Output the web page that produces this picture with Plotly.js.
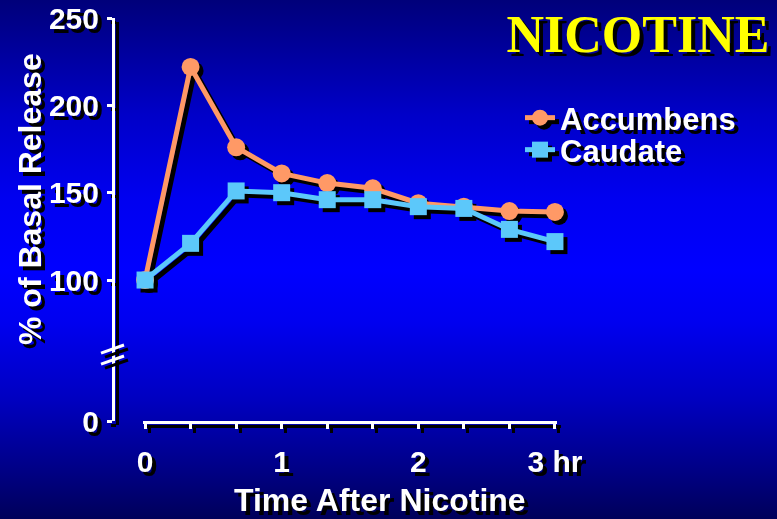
<!DOCTYPE html>
<html>
<head>
<meta charset="utf-8">
<script src="https://cdn.plot.ly/plotly-3.0.1.min.js"></script>
<style>
  html, body { margin: 0; padding: 0; width: 777px; height: 519px; overflow: hidden; }
  body { background: linear-gradient(to bottom, #00007a 0%, #0000c8 22%, #0000f0 38%, #0000ff 52%, #0000f0 62%, #0000c0 77%, #000088 90%, #00005a 100%); }
  #chart { width: 777px; height: 519px; }
  #chart .main-svg { filter: drop-shadow(4px 4px 0 #000); }
</style>
</head>
<body>
<div id="chart"></div>
<script>
// Data (time in minutes after nicotine, % of basal release)
const timeMin = [0, 20, 40, 60, 80, 100, 120, 140, 160, 180];
const accumbens = [100, 222, 176, 161, 155.5, 152.5, 144, 142, 139.5, 139];
const caudate = [100, 121, 151, 150, 146, 146, 142, 141, 129, 122];
const seriesNames = ['Accumbens', 'Caudate'];
const xTickVals = [0, 20, 40, 60, 80, 100, 120, 140, 160, 180];
const xTickText = ['0', '', '', '1', '', '', '2', '', '', '3 hr'];
const yTickVals = [19.3, 100, 150, 200, 250];
const yTickText = ['0', '100', '150', '200', '250'];
const breakVals = [60.5, 54.2];

const W = 777, H = 519;
const bold = { family: 'Liberation Sans, Arial, sans-serif', weight: 'bold', color: '#ffffff' };

const traces = [
  {
    x: timeMin, y: accumbens, name: seriesNames[0], type: 'scatter', mode: 'lines+markers',
    legend: 'legend', cliponaxis: false,
    line: { color: '#ff9966', width: 5 },
    marker: { symbol: 'circle', size: 18, color: '#ff9966' }
  },
  {
    x: timeMin, y: caudate, name: seriesNames[1], type: 'scatter', mode: 'lines+markers',
    legend: 'legend2', cliponaxis: false,
    line: { color: '#5cc8fa', width: 5 },
    marker: { symbol: 'square', size: 17, color: '#5cc8fa' }
  }
];

const shapes = breakVals.map(v => ({
  type: 'line', xref: 'paper', yref: 'y',
  x0: 101 / W, x1: 124 / W, y0: v - 2.3, y1: v + 2.3,
  line: { color: '#ffffff', width: 3 }
}));

const legendBase = {
  x: 520 / W, xanchor: 'left',
  bgcolor: 'rgba(0,0,0,0)', borderwidth: 0,
  font: Object.assign({ size: 31 }, bold)
};

const layout = {
  width: W, height: H,
  margin: { l: 0, r: 0, t: 0, b: 0 },
  paper_bgcolor: 'rgba(0,0,0,0)',
  plot_bgcolor: 'rgba(0,0,0,0)',
  showlegend: true,
  title: {
    text: 'NICOTINE',
    x: 638 / W, xanchor: 'center', xref: 'paper',
    y: 1 - 34 / H, yanchor: 'middle', yref: 'paper',
    font: { family: 'Liberation Serif, Times New Roman, serif', weight: 'bold', size: 52, color: '#ffff00' }
  },
  xaxis: {
    domain: [143 / W, 557 / W],
    range: [-0.9, 180.9],
    anchor: 'y',
    showgrid: false, zeroline: false,
    showline: true, linecolor: '#ffffff', linewidth: 3,
    ticks: 'outside', ticklen: 5, tickwidth: 3, tickcolor: '#ffffff',
    tickvals: xTickVals, ticktext: xTickText,
    ticklabelstandoff: 7,
    tickfont: Object.assign({ size: 30 }, bold)
  },
  yaxis: {
    domain: [1 - 421 / H, 1 - 18 / H],
    range: [19.3, 250],
    anchor: 'free', position: 113 / W,
    showgrid: false, zeroline: false,
    showline: true, linecolor: '#ffffff', linewidth: 3,
    ticks: 'outside', ticklen: 5, tickwidth: 3, tickcolor: '#ffffff',
    tickvals: yTickVals, ticktext: yTickText,
    ticklabelstandoff: 2,
    tickfont: Object.assign({ size: 30 }, bold)
  },
  legend: Object.assign({ y: 1 - 91 / H, yanchor: 'top' }, legendBase),
  legend2: Object.assign({ y: 1 - 123 / H, yanchor: 'top' }, legendBase),
  annotations: [
    {
      text: '% of Basal Release', xref: 'paper', yref: 'paper',
      x: 30 / W, y: 1 - 199 / H, xanchor: 'center', yanchor: 'middle',
      textangle: -90, showarrow: false,
      font: Object.assign({ size: 32 }, bold)
    },
    {
      text: 'Time After Nicotine', xref: 'paper', yref: 'paper',
      x: 380 / W, y: 1 - 500 / H, xanchor: 'center', yanchor: 'middle',
      showarrow: false,
      font: Object.assign({ size: 32 }, bold)
    }
  ],
  shapes: shapes
};

Plotly.newPlot('chart', traces, layout, { displayModeBar: false, staticPlot: true });
</script>
</body>
</html>
